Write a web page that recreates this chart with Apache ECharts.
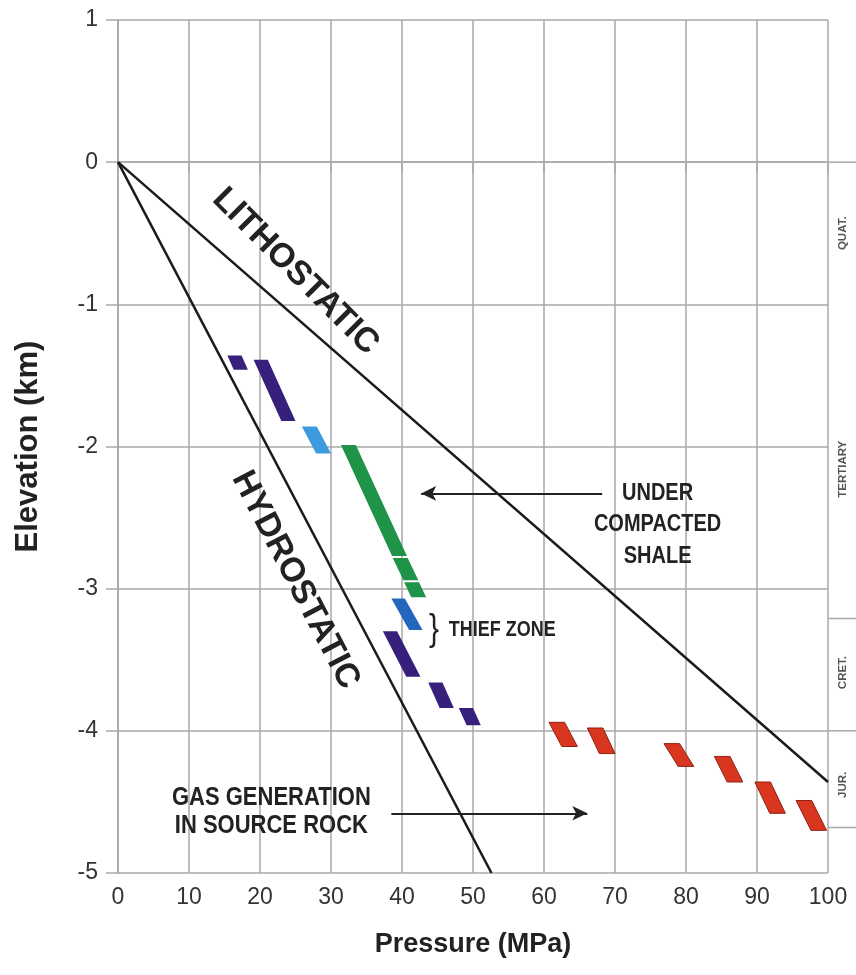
<!DOCTYPE html>
<html>
<head>
<meta charset="utf-8">
<script src="https://cdn.jsdelivr.net/npm/echarts@6/dist/echarts.min.js"></script>
<style>
html, body { margin: 0; padding: 0; background: #fff; }
#chart { width: 856px; height: 975px; }
</style>
</head>
<body>
<div id="chart"></div>
<script>
// gradient lines: [pressure MPa, elevation km]
const lithostatic = [[0, 0], [100, -4.36]];
const hydrostatic = [[0, 0], [52.6, -5]];

// pressure blocks: [top x, top y, bottom x, bottom y] (left corners)
const purpleBlocks = [
    [15.4, -1.36, 16.3, -1.46],
    [19.1, -1.39, 23.0, -1.82],
    [37.3, -3.30, 40.6, -3.62],
    [43.7, -3.66, 45.3, -3.84],
    [48.0, -3.84, 49.1, -3.96]
];
const lightBlueBlocks = [[25.9, -1.86, 27.9, -2.05]];
const greenBlocks = [
    [31.4, -1.99, 38.6, -2.77],
    [38.7, -2.785, 40.2, -2.94],
    [40.3, -2.955, 41.3, -3.06]
];
const thiefBlocks = [[38.5, -3.07, 41.0, -3.29]];
const redBlocks = [
    [60.7, -3.94, 62.5, -4.11],
    [66.1, -3.98, 67.8, -4.16],
    [76.9, -4.09, 78.9, -4.25],
    [84.0, -4.18, 85.8, -4.36],
    [89.7, -4.36, 91.8, -4.58],
    [95.5, -4.49, 97.6, -4.70]
];

// geological column on the right
const eraBounds = [0, -3.21, -4, -4.68];
const eraNames = ['QUAT.', 'TERTIARY', 'CRET.', 'JUR.'];
const eraLabelDepth = [-0.5, -2.16, -3.59, -4.38];

// arrows: [from, to]
const shaleArrow = [[68.2, -2.33], [42.7, -2.33]];
const gasArrow = [[38.5, -4.58], [66.1, -4.58]];

const FONT = "'Liberation Sans', Arial, sans-serif";
const chart = echarts.init(document.getElementById('chart'));

function blockSeries(name, data, color, w, stroke) {
    return {
        name: name,
        type: 'custom',
        data: data,
        z: 3,
        renderItem: (params, api) => {
            const x0 = api.value(0), y0 = api.value(1), x1 = api.value(2), y1 = api.value(3);
            const pts = [
                api.coord([x0, y0]), api.coord([x0 + w, y0]),
                api.coord([x1 + w, y1]), api.coord([x1, y1])
            ];
            return {
                type: 'polygon',
                shape: { points: pts },
                style: { fill: color, stroke: stroke || color, lineWidth: stroke ? 1 : 0 }
            };
        },
        encode: { x: [0, 2], y: [1, 3] }
    };
}

const axisGray = '#a9a9a9';

chart.setOption({
    animation: false,
    grid: { left: 118, right: 28, top: 20, bottom: 102 },
    xAxis: {
        type: 'value', min: 0, max: 100, interval: 10,
        name: 'Pressure (MPa)', nameLocation: 'middle', nameGap: 58,
        nameTextStyle: { fontFamily: FONT, fontWeight: 'bold', fontSize: 27, color: '#222' },
        axisLine: { show: true, lineStyle: { color: axisGray, width: 1.5 } },
        axisTick: { show: true, length: 11, lineStyle: { color: axisGray, width: 1.5 } },
        axisLabel: { fontFamily: FONT, fontSize: 23, color: '#333', margin: 13 },
        splitLine: { show: true, lineStyle: { color: axisGray, width: 1.5 } }
    },
    yAxis: {
        type: 'value', min: -5, max: 1, interval: 1,
        name: 'Elevation (km)', nameLocation: 'middle', nameGap: 74,
        nameTextStyle: { fontFamily: FONT, fontWeight: 'bold', fontSize: 31, color: '#222' },
        axisLine: { show: true, lineStyle: { color: axisGray, width: 1.5 } },
        axisTick: { show: true, length: 12, lineStyle: { color: axisGray, width: 1.5 } },
        axisLabel: { fontFamily: FONT, fontSize: 23, color: '#333', margin: 20 },
        splitLine: { show: true, lineStyle: { color: axisGray, width: 1.5 } }
    },
    series: [
        {
            name: 'Lithostatic', type: 'line', data: lithostatic, showSymbol: false, z: 4,
            lineStyle: { color: '#1b1b1b', width: 2.5 }
        },
        {
            name: 'Hydrostatic', type: 'line', data: hydrostatic, showSymbol: false, z: 4,
            lineStyle: { color: '#1b1b1b', width: 2.5 }
        },
        blockSeries('purple', purpleBlocks, '#37207c', 2.0),
        blockSeries('lightblue', lightBlueBlocks, '#3c9ade', 2.1),
        blockSeries('green', greenBlocks, '#1f9448', 2.1),
        blockSeries('thief', thiefBlocks, '#2566bd', 1.9),
        blockSeries('red', redBlocks, '#d9361f', 2.2, '#8f2114'),
        {
            name: 'arrows', type: 'line', data: [], z: 5,
            markLine: {
                silent: true, animation: false,
                symbol: ['none', 'arrow'], symbolSize: [11, 15],
                label: { show: false },
                lineStyle: { color: '#222', width: 2, type: 'solid' },
                data: [
                    [{ coord: shaleArrow[0] }, { coord: shaleArrow[1] }],
                    [{ coord: gasArrow[0] }, { coord: gasArrow[1] }]
                ]
            }
        }
    ]
});

const px = (x, y) => chart.convertToPixel({ gridIndex: 0 }, [x, y]);
const W = chart.getWidth();
const graphics = [];

function text(pos, str, opt) {
    graphics.push(Object.assign({
        type: 'text', x: pos[0], y: pos[1], z: 10,
        style: Object.assign({
            text: str, fill: '#222', align: 'center', verticalAlign: 'middle',
            font: 'bold 20px ' + FONT
        }, opt.style || {})
    }, opt.el || {}));
}

// era column
const colX = px(100, 0)[0];
eraBounds.forEach(d => {
    const y = px(100, d)[1];
    graphics.push({ type: 'line', z: 2, shape: { x1: colX, y1: y, x2: W, y2: y },
        style: { stroke: axisGray, lineWidth: 1.5 } });
});
eraNames.forEach((n, i) => {
    const p = px(100, eraLabelDepth[i]);
    text([colX + 15, p[1]], n, { el: { rotation: Math.PI / 2, scaleX: 1.15 },
        style: { font: 'bold 10px ' + FONT, fill: '#555' } });
});

// line labels
text(px(25.0, -0.77), 'LITHOSTATIC', { el: { rotation: -45 * Math.PI / 180 },
    style: { font: 'bold 34px ' + FONT } });
text(px(25.0, -2.94), 'HYDROSTATIC', { el: { rotation: -62.5 * Math.PI / 180 },
    style: { font: 'bold 34px ' + FONT } });

// annotations
const tall = { scaleY: 1.2 };
text(px(76.0, -2.33), 'UNDER', { el: tall, style: { font: 'bold 20px ' + FONT } });
text(px(76.0, -2.55), 'COMPACTED', { el: tall, style: { font: 'bold 20px ' + FONT } });
text(px(76.0, -2.77), 'SHALE', { el: tall, style: { font: 'bold 20px ' + FONT } });
text(px(43.8, -3.29), '}', { el: tall, style: { font: '30px ' + FONT, align: 'left' } });
text(px(46.6, -3.29), 'THIEF ZONE', { el: tall, style: { font: 'bold 18px ' + FONT, align: 'left' } });
text(px(21.6, -4.47), 'GAS GENERATION', { el: tall, style: { font: 'bold 22px ' + FONT } });
text(px(21.6, -4.67), 'IN SOURCE ROCK', { el: tall, style: { font: 'bold 22px ' + FONT } });

chart.setOption({ graphic: graphics });
</script>
</body>
</html>
